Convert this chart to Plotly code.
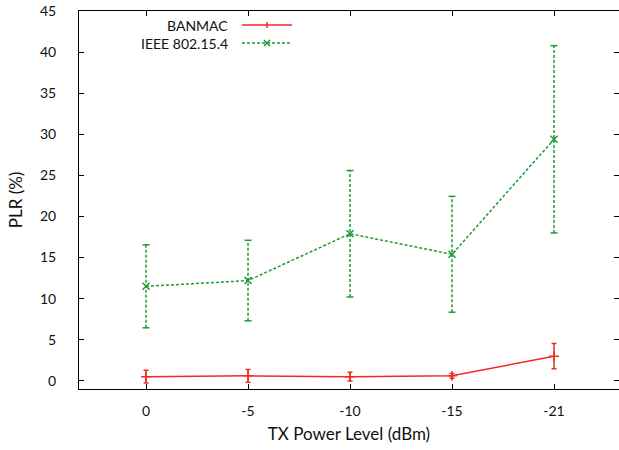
import plotly.graph_objects as go

categories = ["0", "-5", "-10", "-15", "-21"]
banmac = [0.5, 0.6, 0.5, 0.6, 3.0]
banmac_err = [0.77, 0.77, 0.53, 0.3, 1.54]
ieee = [11.5, 12.2, 17.9, 15.4, 29.4]
ieee_err = [5.05, 4.9, 7.7, 7.05, 11.4]
y_ticks = [0, 5, 10, 15, 20, 25, 30, 35, 40, 45]

RED = "#f22a22"
GREEN = "#1f9a35"
FONT = "Lato"
FS = 14

x = list(range(len(categories)))

fig = go.Figure()

# IEEE error bars (dashed vertical segments + caps)
ex, ey = [], []
for xi, v, e in zip(x, ieee, ieee_err):
    ex += [xi, xi, None]
    ey += [v - e, v + e, None]
fig.add_trace(go.Scatter(x=ex, y=ey, mode="lines",
                         line=dict(color=GREEN, width=1.5, dash="3px,2px"),
                         showlegend=False, hoverinfo="skip"))
cx, cy = [], []
for xi, v, e in zip(x, ieee, ieee_err):
    cx += [xi, xi]
    cy += [v - e, v + e]
fig.add_trace(go.Scatter(x=cx, y=cy, mode="markers",
                         marker=dict(symbol="line-ew-open", size=5, color=GREEN,
                                     line=dict(color=GREEN, width=1.5)),
                         showlegend=False, hoverinfo="skip"))
fig.add_trace(go.Scatter(x=x, y=ieee, mode="lines+markers", name="IEEE 802.15.4",
                         line=dict(color=GREEN, width=1.5, dash="3px,2px"),
                         marker=dict(symbol="x-thin-open", size=7, color=GREEN,
                                     line=dict(color=GREEN, width=1.5)),
                         showlegend=False))

fig.add_trace(go.Scatter(x=x, y=banmac, mode="lines+markers", name="BANMAC",
                         line=dict(color=RED, width=1.5),
                         marker=dict(symbol="cross-thin-open", size=7, color=RED,
                                     line=dict(color=RED, width=1.5)),
                         error_y=dict(type="data", array=banmac_err, visible=True,
                                      color=RED, thickness=1.5, width=2.5),
                         showlegend=False))

W, H = 540, 378
L, B, T = 79, 389, 11


def px(xp):
    return (xp - L) / W


def py(yp):
    return (B - yp) / H


def seg(x0, y0, x1, y1, col, dash="solid"):
    fig.add_shape(type="line", xref="paper", yref="paper",
                  x0=px(x0), x1=px(x1), y0=py(y0), y1=py(y1),
                  line=dict(color=col, width=1.5, dash=dash))


legend_items = [("BANMAC", RED, "solid", 25, "+"),
                ("IEEE 802.15.4", GREEN, "3px,2px", 43, "x")]
for label, col, dash, yy, glyph in legend_items:
    fig.add_annotation(x=px(230), y=py(yy), xref="paper", yref="paper",
                       text=label, showarrow=False, xanchor="right", yanchor="middle",
                       font=dict(family=FONT, size=FS, color="#111"))
    seg(242, yy, 292, yy, col, dash)
    if glyph == "+":
        seg(267, yy - 3, 267, yy + 3, col)
    else:
        seg(264, yy - 3, 270, yy + 3, col)
        seg(264, yy + 3, 270, yy - 3, col)

fig.update_layout(
    width=619, height=450,
    margin=dict(l=L, r=619 - L - W, t=T, b=450 - B),
    paper_bgcolor="white", plot_bgcolor="white",
    font=dict(family=FONT, size=FS, color="#111"),
    showlegend=False,
    xaxis=dict(range=[-0.657, 4.637], tickvals=x, ticktext=categories,
               ticks="inside", ticklen=5, tickcolor="black", mirror="ticks",
               showline=True, linecolor="black", linewidth=1, showgrid=False,
               zeroline=False, ticklabelstandoff=9,
               title=dict(text="TX Power Level (dBm)", standoff=10)),
    yaxis=dict(range=[-1, 45.02], tickvals=y_ticks,
               ticks="inside", ticklen=5, tickcolor="black", mirror="ticks",
               showline=True, linecolor="black", linewidth=1, showgrid=False,
               zeroline=False, ticklabelstandoff=19,
               title=dict(text="PLR (%)", standoff=13)),
)

fig.write_html("out.html", config={"displayModeBar": False},
               post_script="document.body.style.margin='0';document.body.style.padding='0';")
